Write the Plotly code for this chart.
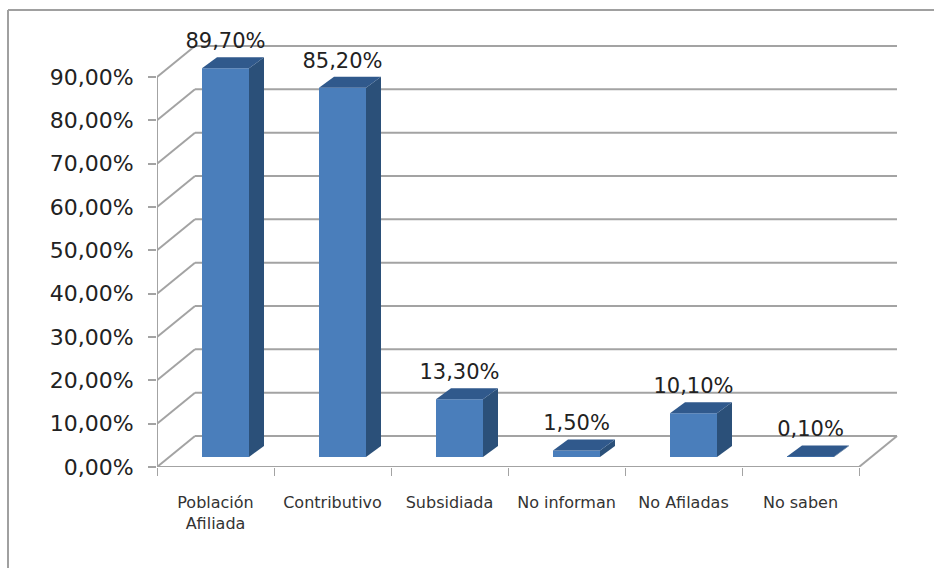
import plotly.graph_objects as go

categories = ["Población<br>Afiliada", "Contributivo", "Subsidiada", "No informan", "No Afiladas", "No saben"]
values = [89.7, 85.2, 13.3, 1.5, 10.1, 0.1]
value_labels = ["89,70%", "85,20%", "13,30%", "1,50%", "10,10%", "0,10%"]
y_ticks = [0, 10, 20, 30, 40, 50, 60, 70, 80, 90]
y_tick_labels = ["0,00%", "10,00%", "20,00%", "30,00%", "40,00%", "50,00%", "60,00%", "70,00%", "80,00%", "90,00%"]

W, H = 934, 568
X0, Y0 = 157, 467          # pixel position of the axes origin
PX_CAT = 117.0             # pixels per category
PX_PCT = 390 / 90          # pixels per percentage point
R, T = 905, 30             # right / top of plot area in pixels

def dx(px): return px / PX_CAT
def dy(px): return px / PX_PCT

n = len(categories)
centers = [i + 0.5 for i in range(n)]
WALL_DX, WALL_DY = dx(38), dy(31)
BAR_W = dx(47)
FRONT_DX, FRONT_DY = dx(10), dy(10)
SIDE_DX, SIDE_DY = dx(15), dy(11)
LABEL_GAP = dy(25.5)

GRID = "#a3a3a3"
FRONT = "#4a7ebb"
SIDE = "#2b5079"
TOP = "#30598c"

shapes = []
def seg(x0, y0, x1, y1, color=GRID, width=2):
    shapes.append(dict(type="line", xref="x", yref="y", x0=x0, y0=y0, x1=x1, y1=y1,
                       layer="below", line=dict(color=color, width=width)))

for t in y_ticks:
    seg(0, t, WALL_DX, t + WALL_DY)
    seg(WALL_DX, t + WALL_DY, n + WALL_DX, t + WALL_DY)
seg(0, 0, 0, 90)
seg(0, 0, n, 0)
seg(n, 0, n + WALL_DX, WALL_DY)

# top and left edges of the picture's frame (right and bottom are cropped off)
def px_x(p): return (p - X0) / (R - X0)
def px_y(p): return (Y0 - p) / (Y0 - T)
for a, b, c, d in [(8, 10, W, 10), (8, 10, 8, H)]:
    shapes.append(dict(type="line", xref="paper", yref="paper",
                       x0=px_x(a), y0=px_y(b), x1=px_x(c), y1=px_y(d),
                       layer="below", line=dict(color="#a0a0a0", width=2)))

fig = go.Figure()

xb = [c + FRONT_DX for c in centers]
fig.add_trace(go.Bar(x=xb, y=values, base=[FRONT_DY] * n, width=BAR_W,
                     marker=dict(color=FRONT, line=dict(width=0)), hoverinfo="skip"))

for cx, v in zip(xb, values):
    l, r = cx - BAR_W / 2, cx + BAR_W / 2
    b, t = FRONT_DY, FRONT_DY + v
    fig.add_trace(go.Scatter(x=[r, r + SIDE_DX, r + SIDE_DX, r, r],
                             y=[b, b + SIDE_DY, t + SIDE_DY, t, b],
                             mode="none", fill="toself", fillcolor=SIDE, hoverinfo="skip"))
    fig.add_trace(go.Scatter(x=[l, r, r + SIDE_DX, l + SIDE_DX, l],
                             y=[t, t, t + SIDE_DY, t + SIDE_DY, t],
                             mode="none", fill="toself", fillcolor=TOP, hoverinfo="skip"))

fig.add_trace(go.Scatter(x=xb, y=[v + FRONT_DY + LABEL_GAP for v in values],
                         mode="text", text=value_labels, textposition="middle center",
                         textfont=dict(family="DejaVu Sans", size=21, color="#222222"),
                         hoverinfo="skip", cliponaxis=False))

fig.update_layout(
    width=W, height=H,
    margin=dict(l=X0, r=W - R, t=T, b=H - Y0, pad=0),
    paper_bgcolor="white", plot_bgcolor="white",
    showlegend=False, barmode="overlay", shapes=shapes,
    xaxis=dict(range=[0, (R - X0) / PX_CAT], showgrid=False, zeroline=False, showline=False,
               tickmode="array", tickvals=centers, ticktext=categories, ticks="",
               tickfont=dict(family="DejaVu Sans", size=16, color="#333333"),
               ticklabelstandoff=24,
               minor=dict(tickmode="array", tickvals=list(range(n + 1)), ticks="outside",
                          ticklen=8, tickwidth=1, tickcolor=GRID, showgrid=False)),
    yaxis=dict(range=[0, (Y0 - T) / PX_PCT], showgrid=False, zeroline=False, showline=False,
               tickmode="array", tickvals=y_ticks, ticktext=y_tick_labels,
               ticks="outside", ticklen=8, tickwidth=2, tickcolor=GRID,
               tickfont=dict(family="DejaVu Sans", size=22, color="#222222"),
               ticklabelstandoff=10),
)

fig.write_html("out.html", post_script="document.body.style.margin='0';",
               config=dict(displayModeBar=False))
